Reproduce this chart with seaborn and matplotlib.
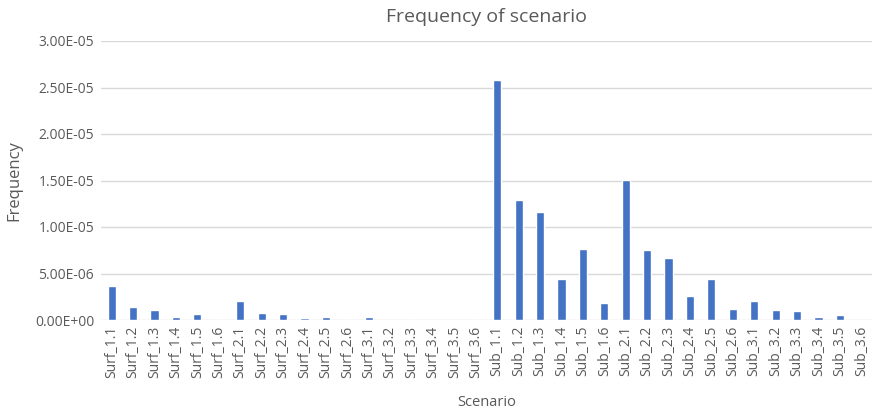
import matplotlib
matplotlib.use("Agg")
import matplotlib.pyplot as plt
import seaborn as sns
import pandas as pd

categories = (
    ["Surf_1.%d" % i for i in range(1, 7)]
    + ["Surf_2.%d" % i for i in range(1, 7)]
    + ["Surf_3.%d" % i for i in range(1, 7)]
    + ["Sub_1.%d" % i for i in range(1, 7)]
    + ["Sub_2.%d" % i for i in range(1, 7)]
    + ["Sub_3.%d" % i for i in range(1, 7)]
)
surf_values = [3.64e-6, 1.43e-6, 1.07e-6, 0.29e-6, 0.61e-6, 0.0,
               2.07e-6, 0.78e-6, 0.61e-6, 0.18e-6, 0.29e-6, 0.0,
               0.29e-6, 0.0, 0.0, 0.0, 0.0, 0.0]
sub_values = [2.58e-5, 1.29e-5, 1.16e-5, 4.46e-6, 7.68e-6, 1.85e-6,
              1.51e-5, 7.50e-6, 6.71e-6, 2.54e-6, 4.46e-6, 1.15e-6,
              2.07e-6, 1.04e-6, 0.93e-6, 0.35e-6, 0.54e-6, 0.0]
values = surf_values + sub_values
yticks = [0, 5e-6, 1e-5, 1.5e-5, 2e-5, 2.5e-5, 3e-5]
ytick_labels = ["0.00E+00", "5.00E-06", "1.00E-05", "1.50E-05", "2.00E-05", "2.50E-05", "3.00E-05"]

df = pd.DataFrame({"Scenario": categories, "Frequency": values})

sns.set_theme(style="white")
plt.rcParams["font.family"] = ["Open Sans", "DejaVu Sans"]
text_color = "#595959"

fig = plt.figure(figsize=(8.78, 4.13), dpi=100)
ax = fig.add_axes([101 / 878, 1 - 320 / 413, 771 / 878, 279 / 413])
sns.barplot(data=df, x="Scenario", y="Frequency", color="#4472C4",
            width=0.38, saturation=1, ax=ax, zorder=3)
ax.set_ylim(0, 3e-5)
ax.set_yticks(yticks)
ax.set_yticklabels(ytick_labels, color=text_color, fontsize=10)
ax.set_xlim(-0.5, len(categories) - 0.5)
ax.tick_params(axis="x", rotation=90, labelsize=10, labelcolor=text_color, length=0, pad=4)
ax.tick_params(axis="y", length=0, pad=5)
ax.grid(axis="y", color="#D9D9D9", linewidth=1, zorder=0)
for s in ax.spines.values():
    s.set_visible(False)
ax.set_title("Frequency of scenario", fontsize=14, color=text_color, pad=14)
ax.set_xlabel("Scenario", fontsize=10.5, color=text_color, labelpad=12)
ax.set_ylabel("Frequency", fontsize=12, color=text_color, labelpad=9)
fig.savefig("out.png", dpi=100)
